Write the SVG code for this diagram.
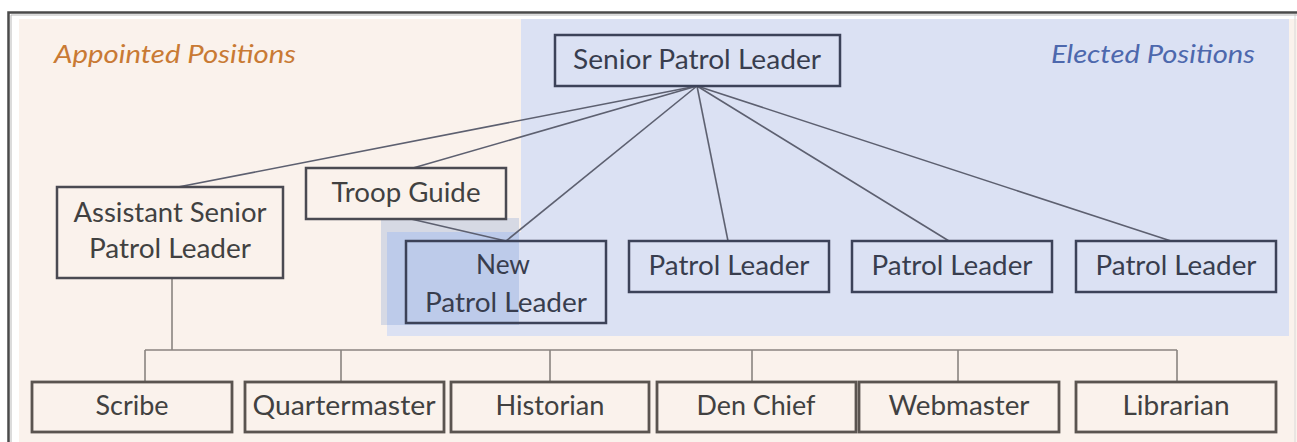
<svg xmlns="http://www.w3.org/2000/svg" width="1297" height="442" viewBox="0 0 1297 442">
  <style>
    .box { fill: none; stroke: #4a4a52; stroke-width: 2.5; }
    .bbox { fill: none; stroke: #3c4258; stroke-width: 2.5; }
    .pbox { fill: none; stroke: #5a5450; stroke-width: 2.8; }
    .t { font-family: Lato, "Open Sans", sans-serif; font-size: 26px; fill: #414141; text-anchor: middle; }
    .tb { font-family: Lato, "Open Sans", sans-serif; font-size: 26px; fill: #383d4e; text-anchor: middle; }
    .lbl { font-family: Lato, "Open Sans", sans-serif; font-size: 25px; font-style: italic; }
    .c { stroke: #5d6070; stroke-width: 1.6; fill: none; }
    .tree { stroke: #8a8480; stroke-width: 1.6; fill: none; }
  </style>
  <rect x="0" y="0" width="1297" height="442" fill="#ffffff"/>
  <!-- frame -->
  <g id="frame">
    <rect x="19" y="19" width="1278" height="423" fill="#faf2ec"/>
    <rect x="521" y="19" width="768" height="317" fill="#dbe1f3"/>
    <rect x="387" y="232" width="136" height="104" fill="#dbe1f3"/>
    <rect x="381" y="218" width="138" height="107" fill="#d6d9e4"/>
    <rect x="387" y="232" width="132" height="93" fill="#bdcbea"/>
    <line x1="1289" y1="19" x2="1289" y2="336" stroke="#ffffff" stroke-width="0"/>
    <line x1="1295" y1="14" x2="1295" y2="442" stroke="#d8d8d8" stroke-width="1"/>
    <path d="M8.5 442 V12.5 H1297" fill="none" stroke="#4a4a4a" stroke-width="2.5"/>
    <path d="M11 442 V15 H1297" fill="none" stroke="#b8b8b8" stroke-width="1"/>
  </g>
  <text class="lbl" x="54" y="63" fill="#c97a34" textLength="242" lengthAdjust="spacingAndGlyphs">Appointed Positions</text>
  <text class="lbl" x="1051" y="63" fill="#4d68ad" textLength="204" lengthAdjust="spacingAndGlyphs">Elected Positions</text>
  <!-- connectors -->
  <g id="connectors">
    <line class="c" x1="697" y1="86" x2="178" y2="187"/>
    <line class="c" x1="697" y1="86" x2="413" y2="168"/>
    <line class="c" x1="697" y1="86" x2="506" y2="241"/>
    <line class="c" x1="697" y1="86" x2="728" y2="241"/>
    <line class="c" x1="697" y1="86" x2="949" y2="241"/>
    <line class="c" x1="697" y1="86" x2="1171" y2="241"/>
    <line class="c" x1="411" y1="219" x2="506" y2="241"/>
    <path class="tree" d="M172 278 V350 M145 350 H1177 M145 350 V382 M341 350 V382 M550 350 V382 M752 350 V382 M958 350 V382 M1177 350 V382"/>
  </g>
  <g id="senior">
    <rect class="bbox" x="555" y="35" width="285" height="51"/>
    <text class="tb" x="697" y="69" textLength="248" lengthAdjust="spacingAndGlyphs">Senior Patrol Leader</text>
  </g>
  <g id="troop-guide">
    <rect class="box" x="306" y="168" width="200" height="51"/>
    <text class="t" x="406" y="202" textLength="149" lengthAdjust="spacingAndGlyphs">Troop Guide</text>
  </g>
  <g id="aspl">
    <rect class="box" x="57" y="187" width="226" height="91"/>
    <text class="t" x="170" y="222" textLength="193" lengthAdjust="spacingAndGlyphs">Assistant Senior</text>
    <text class="t" x="170" y="258" textLength="162" lengthAdjust="spacingAndGlyphs">Patrol Leader</text>
  </g>
  <g id="new-pl">
    <rect class="bbox" x="406" y="241" width="200" height="82"/>
    <text class="tb" x="503" y="274" textLength="54" lengthAdjust="spacingAndGlyphs">New</text>
    <text class="tb" x="506" y="312" textLength="162" lengthAdjust="spacingAndGlyphs">Patrol Leader</text>
  </g>
  <g id="pl1">
    <rect class="bbox" x="629" y="241" width="200" height="51"/>
    <text class="tb" x="729" y="275" textLength="161" lengthAdjust="spacingAndGlyphs">Patrol Leader</text>
  </g>
  <g id="pl2">
    <rect class="bbox" x="852" y="241" width="200" height="51"/>
    <text class="tb" x="952" y="275" textLength="161" lengthAdjust="spacingAndGlyphs">Patrol Leader</text>
  </g>
  <g id="pl3">
    <rect class="bbox" x="1076" y="241" width="200" height="51"/>
    <text class="tb" x="1176" y="275" textLength="161" lengthAdjust="spacingAndGlyphs">Patrol Leader</text>
  </g>
  <g id="scribe">
    <rect class="pbox" x="32" y="382" width="200" height="50"/>
    <text class="t" x="132" y="415" textLength="73" lengthAdjust="spacingAndGlyphs">Scribe</text>
  </g>
  <g id="quartermaster">
    <rect class="pbox" x="245" y="382" width="199" height="50"/>
    <text class="t" x="344" y="415" textLength="183" lengthAdjust="spacingAndGlyphs">Quartermaster</text>
  </g>
  <g id="historian">
    <rect class="pbox" x="451" y="382" width="198" height="50"/>
    <text class="t" x="550" y="415" textLength="109" lengthAdjust="spacingAndGlyphs">Historian</text>
  </g>
  <g id="den-chief">
    <rect class="pbox" x="657" y="382" width="199" height="50"/>
    <text class="t" x="756" y="415" textLength="119" lengthAdjust="spacingAndGlyphs">Den Chief</text>
  </g>
  <g id="webmaster">
    <rect class="pbox" x="859" y="382" width="200" height="50"/>
    <text class="t" x="959" y="415" textLength="141" lengthAdjust="spacingAndGlyphs">Webmaster</text>
  </g>
  <g id="librarian">
    <rect class="pbox" x="1076" y="382" width="200" height="50"/>
    <text class="t" x="1176" y="415" textLength="107" lengthAdjust="spacingAndGlyphs">Librarian</text>
  </g>
</svg>
